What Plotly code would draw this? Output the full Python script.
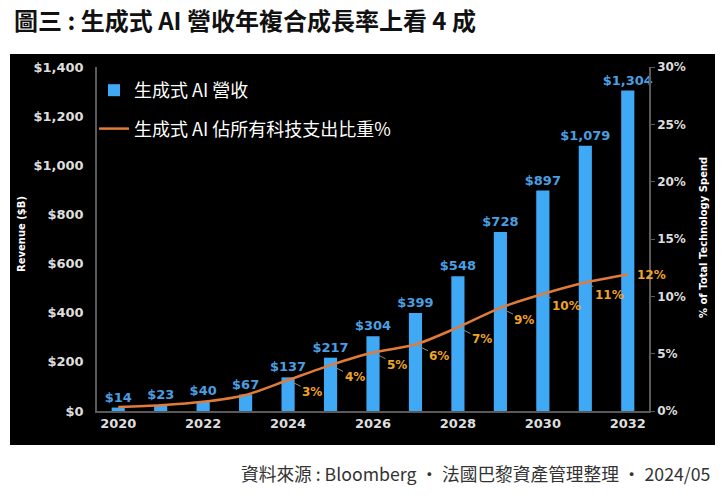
import plotly.graph_objects as go

# ---------------- data ----------------
years = list(range(2020, 2033))
revenue = [14, 23, 40, 67, 137, 217, 304, 399, 548, 728, 897, 1079, 1304]
share_pct = [0.35, 0.5, 0.8, 1.4, 2.7, 4.0, 5.1, 5.8, 7.3, 9.0, 10.2, 11.2, 11.9]
share_labels = [None, None, None, None, "3%", "4%", "5%", "6%", "7%", "9%", "10%", "11%", "12%"]
x_tick_vals = [2020, 2022, 2024, 2026, 2028, 2030, 2032]
y_tick_vals = [0, 200, 400, 600, 800, 1000, 1200, 1400]
y_tick_text = ["$0", "$200", "$400", "$600", "$800", "$1,000", "$1,200", "$1,400"]
y2_tick_vals = [0, 5, 10, 15, 20, 25, 30]
y2_tick_text = ["0%", "5%", "10%", "15%", "20%", "25%", "30%"]

title_text = "圖三 : 生成式 AI 營收年複合成長率上看 4 成"
source_text = "資料來源 : Bloomberg · 法國巴黎資產管理整理 · 2024/05"
bar_name = "生成式 AI 營收"
line_name = "生成式 AI 佔所有科技支出比重%"
y_title = "Revenue ($B)"
y2_title = "% of Total Technology Spend"

# ---------------- style ----------------
W, H = 725, 504
def px_x(p):
    return p / W
def px_y(p):
    return (H - p) / H

BAR_COLOR = "#3fa9f5"
BAR_LABEL = "#4a9fe0"
LINE_COLOR = "#e07b39"
PCT_COLOR = "#f0a427"
TICK_COLOR = "#dedede"
AXIS_COLOR = "#5a5a5a"
CJK = "Noto Sans CJK TC"
LAT = "DejaVu Sans"

fig = go.Figure()
fig.add_trace(go.Bar(
    x=years, y=revenue, name=bar_name, width=0.31,
    marker=dict(color=BAR_COLOR, line=dict(width=0)),
    texttemplate="$%{y:,}", textposition="outside", cliponaxis=False,
    constraintext="none",
    textfont=dict(family=LAT, size=13, color=BAR_LABEL, weight="bold"),
    legendgroup="a", hoverinfo="skip",
))
fig.add_trace(go.Scatter(
    x=years, y=share_pct, name=line_name, yaxis="y2", mode="lines",
    line=dict(color=LINE_COLOR, width=2.5, shape="spline", smoothing=0.8),
    legendgroup="b", hoverinfo="skip",
))

annotations = []
for yr, v, lab in zip(years, share_pct, share_labels):
    if not lab:
        continue
    last = yr == years[-1]
    annotations.append(dict(
        x=yr, y=v, xref="x", yref="y2", text=lab,
        showarrow=True, arrowhead=0, arrowwidth=1,
        arrowcolor="rgba(0,0,0,0)" if last else "#8c8c8c",
        ax=24, ay=0 if last else 12, standoff=5,
        font=dict(family=LAT, size=12, color=PCT_COLOR, weight="bold"),
    ))

annotations += [
    dict(x=px_x(12), y=1, xref="paper", yref="paper", xanchor="left", yanchor="top",
         text=title_text, showarrow=False,
         font=dict(family=CJK, size=24, color="#111111", weight="bold")),
    dict(x=px_x(712), y=px_y(473), xref="paper", yref="paper", xanchor="right", yanchor="middle",
         text=source_text, showarrow=False,
         font=dict(family=CJK, size=17.7, color="#333333")),
    dict(x=px_x(21), y=px_y(234), xref="paper", yref="paper", xanchor="center", yanchor="middle",
         text=y_title, textangle=-90, showarrow=False,
         font=dict(family=LAT, size=10, color="#ffffff", weight="bold")),
    dict(x=px_x(703), y=px_y(238), xref="paper", yref="paper", xanchor="center", yanchor="middle",
         text=y2_title, textangle=-90, showarrow=False,
         font=dict(family=LAT, size=10, color="#ffffff", weight="bold")),
]

fig.update_layout(
    width=W, height=H,
    margin=dict(l=0, r=0, t=0, b=0, pad=0, autoexpand=False),
    paper_bgcolor="#ffffff",
    plot_bgcolor="#000000",
    showlegend=True,
    legend=dict(x=px_x(94), y=px_y(72), xanchor="left", yanchor="top",
                bgcolor="rgba(0,0,0,0)", tracegroupgap=12,
                font=dict(family=CJK, size=18, color="#ffffff")),
    shapes=[dict(type="rect", xref="paper", yref="paper", layer="below",
                 x0=px_x(10), x1=px_x(715), y0=px_y(445), y1=px_y(54),
                 fillcolor="#000000", line=dict(width=0))],
    xaxis=dict(domain=[px_x(97), px_x(649)], range=[2019.5, 2032.5], automargin=False,
               tickvals=x_tick_vals, showgrid=False, zeroline=False,
               showline=True, linecolor=AXIS_COLOR, linewidth=1.5, ticks="",
               tickfont=dict(family=LAT, size=13, color=TICK_COLOR, weight="bold")),
    yaxis=dict(domain=[px_y(411), px_y(67)], range=[0, 1400], automargin=False,
               tickvals=y_tick_vals, ticktext=y_tick_text, showgrid=False, zeroline=False,
               showline=True, linecolor=AXIS_COLOR, linewidth=1.5, ticks="",
               ticklabelstandoff=9,
               tickfont=dict(family=LAT, size=13, color=TICK_COLOR, weight="bold")),
    yaxis2=dict(overlaying="y", side="right", anchor="x", range=[0, 30], automargin=False,
                tickvals=y2_tick_vals, ticktext=y2_tick_text, showgrid=False, zeroline=False,
                showline=True, linecolor=AXIS_COLOR, linewidth=1.5,
                ticks="outside", ticklen=4, tickcolor=AXIS_COLOR,
                tickfont=dict(family=LAT, size=12, color=TICK_COLOR, weight="bold")),
    annotations=annotations,
)

fig.write_html("out.html", config={"displayModeBar": False},
               post_script="document.body.style.margin='0px';document.body.style.overflow='hidden';")
